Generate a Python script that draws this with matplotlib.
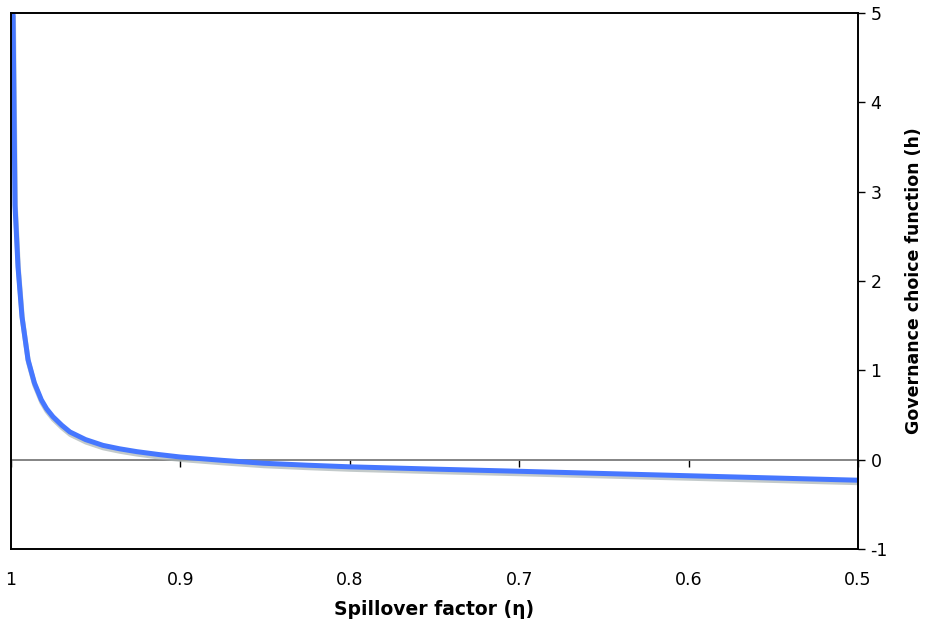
import numpy as np
import matplotlib.pyplot as plt
import matplotlib.patheffects as pe

# values
eta = [0.9988, 0.99764, 0.99587, 0.99351, 0.98996, 0.9862, 0.9821, 0.9790,
       0.9752, 0.9700, 0.9652, 0.9560, 0.9457, 0.9360, 0.9258, 0.9130,
       0.9002, 0.8750, 0.851, 0.825, 0.80, 0.75, 0.70, 0.65, 0.60, 0.55, 0.50]
h = [5.0, 2.85, 2.16, 1.60, 1.12, 0.86, 0.67, 0.57,
     0.48, 0.385, 0.31, 0.225, 0.16, 0.122, 0.09, 0.058,
     0.03, -0.008, -0.04, -0.062, -0.08, -0.106, -0.13, -0.155, -0.18, -0.205, -0.23]

xticks = [1.0, 0.9, 0.8, 0.7, 0.6, 0.5]
xticklabels = ['1', '0.9', '0.8', '0.7', '0.6', '0.5']
yticks = [-1, 0, 1, 2, 3, 4, 5]

fig = plt.figure(figsize=(9.28, 6.24), dpi=100)
ax = fig.add_axes([11/928, 75/624, 847/928, 536/624])

ax.plot(eta, h, color='#4677ff', lw=3.6, solid_capstyle='butt',
        path_effects=[pe.SimpleLineShadow(offset=(0.3, -1.8), shadow_color='#aab4b4', alpha=0.7),
                      pe.Normal()])

ax.set_xlim(1.0, 0.5)
ax.set_ylim(-1, 5)

# x tick labels under the box, tick marks on the zero line
ax.set_xticks(xticks)
ax.set_xticklabels(xticklabels, fontsize=12.5)
ax.tick_params(axis='x', length=0, pad=16)

zero = ax.secondary_xaxis(1/6)
zero.set_xticks(xticks)
zero.tick_params(axis='x', direction='out', length=5, width=1, labelbottom=False)
zero.spines['bottom'].set_color('#707070')
zero.spines['bottom'].set_linewidth(1.2)

ax.yaxis.tick_right()
ax.yaxis.set_label_position('right')
ax.set_yticks(yticks)
ax.set_yticklabels([str(v) for v in yticks], fontsize=12.5)
ax.tick_params(axis='y', direction='out', length=5, width=1, pad=4)

for s in ax.spines.values():
    s.set_color('black')
    s.set_linewidth(1.4)

ax.set_xlabel('Spillover factor (η)', fontsize=13.5, fontweight='bold', labelpad=8)
ax.set_ylabel('Governance choice function (h)', fontsize=12.5, fontweight='bold', labelpad=12)

fig.savefig('out.png', dpi=100)
